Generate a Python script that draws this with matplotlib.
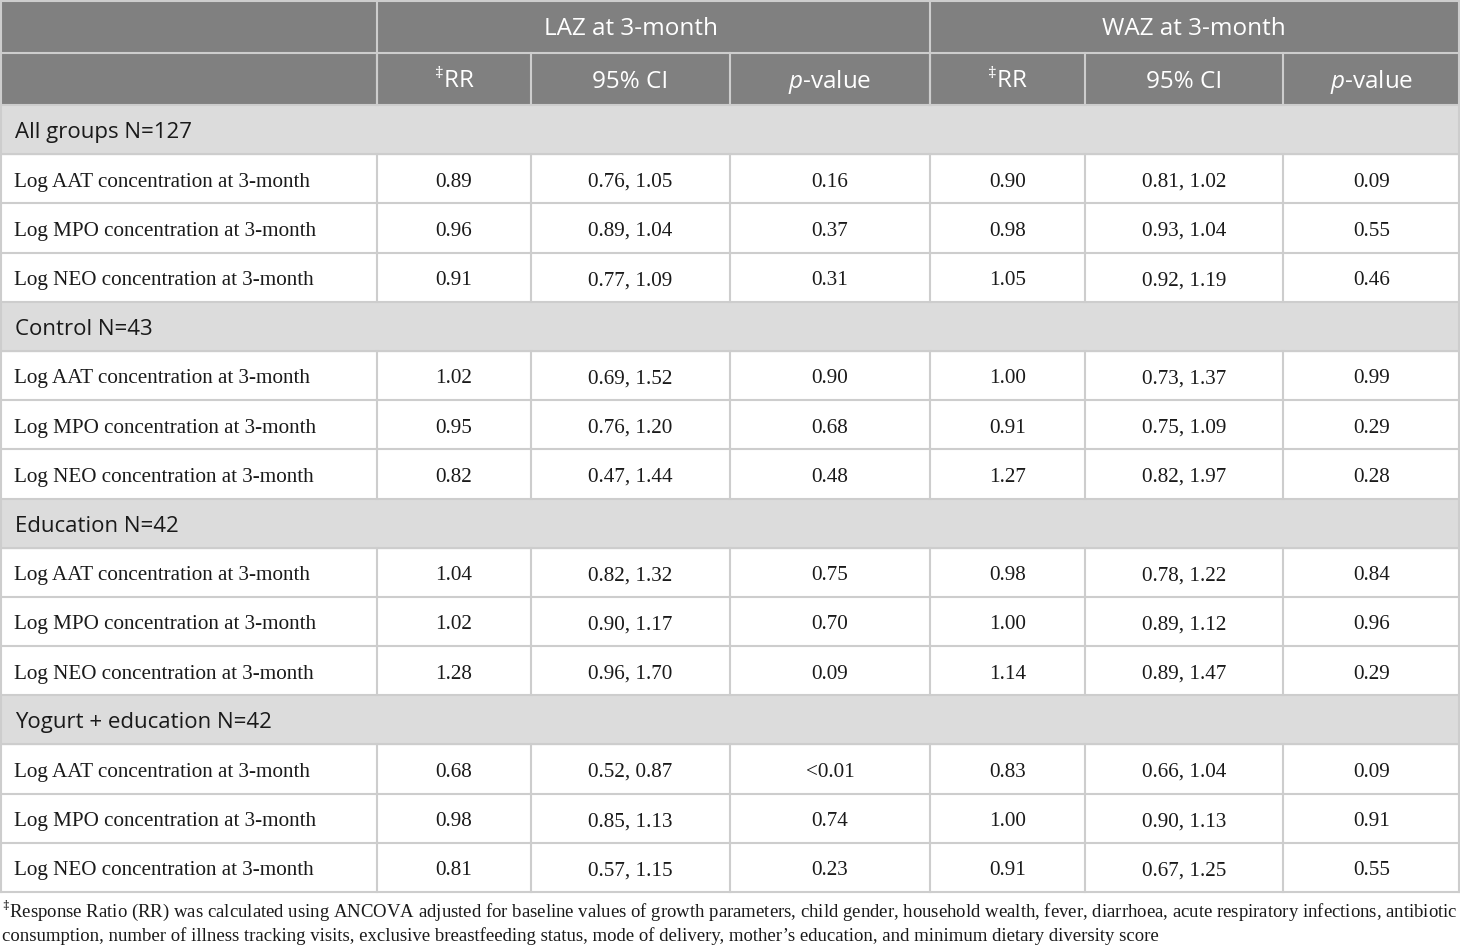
import matplotlib
matplotlib.use("Agg")
import matplotlib.pyplot as plt

plt.rcParams['mathtext.fontset'] = 'custom'
plt.rcParams['mathtext.rm'] = 'Open Sans'
plt.rcParams['mathtext.it'] = 'Open Sans:italic'

# données du tableau
groups = ["All groups N=127", "Control N=43", "Education N=42", "Yogurt + education N=42"]
markers = ["Log AAT concentration at 3-month",
           "Log MPO concentration at 3-month",
           "Log NEO concentration at 3-month"]

laz_rr = [["0.89", "0.96", "0.91"], ["1.02", "0.95", "0.82"],
          ["1.04", "1.02", "1.28"], ["0.68", "0.98", "0.81"]]
laz_ci = [["0.76, 1.05", "0.89, 1.04", "0.77, 1.09"], ["0.69, 1.52", "0.76, 1.20", "0.47, 1.44"],
          ["0.82, 1.32", "0.90, 1.17", "0.96, 1.70"], ["0.52, 0.87", "0.85, 1.13", "0.57, 1.15"]]
laz_p = [["0.16", "0.37", "0.31"], ["0.90", "0.68", "0.48"],
         ["0.75", "0.70", "0.09"], ["<0.01", "0.74", "0.23"]]

waz_rr = [["0.90", "0.98", "1.05"], ["1.00", "0.91", "1.27"],
          ["0.98", "1.00", "1.14"], ["0.83", "1.00", "0.91"]]
waz_ci = [["0.81, 1.02", "0.93, 1.04", "0.92, 1.19"], ["0.73, 1.37", "0.75, 1.09", "0.82, 1.97"],
          ["0.78, 1.22", "0.89, 1.12", "0.89, 1.47"], ["0.66, 1.04", "0.90, 1.13", "0.67, 1.25"]]
waz_p = [["0.09", "0.55", "0.46"], ["0.99", "0.29", "0.28"],
         ["0.84", "0.96", "0.29"], ["0.09", "0.91", "0.55"]]

outcomes = ["LAZ at 3-month", "WAZ at 3-month"]
sub_headers = [r"$^{‡}$RR", "95% CI", r"$p$-value"]

footnote = ("$^{‡}$Response Ratio (RR) was calculated using ANCOVA adjusted for baseline values of growth parameters, "
            "child gender, household wealth, fever, diarrhoea, acute respiratory infections, antibiotic\n"
            "consumption, number of illness tracking visits, exclusive breastfeeding status, mode of delivery, "
            "mother’s education, and minimum dietary diversity score")

# mise en page (pixels)
W, H = 1460, 947
col_x = [0, 377, 531, 730, 930, 1085, 1283, 1460]
h_head = [0, 53, 105]
row_h = (892 - 105) / 16
base_off = 32.5   # décalage de la ligne de base dans une rangée

head_bg = "#808080"
grp_bg = "#dcdcdc"
line_c = "#cdcdcd"
txt_c = "#1a1a1a"
sans = "Open Sans"
serif = "Liberation Serif"
fs_head = 17.5
fs_body = 15.2

fig = plt.figure(figsize=(W / 100, H / 100), dpi=100)
ax = fig.add_axes([0, 0, 1, 1])
ax.set_xlim(0, W)
ax.set_ylim(H, 0)
ax.axis("off")

# en-tête
ax.add_patch(plt.Rectangle((0, 0), W, h_head[2], color=head_bg, zorder=0))
ax.text(630.5, 35, outcomes[0], ha="center", va="baseline", color="white",
        family=sans, fontsize=fs_head)
ax.text(1194, 35, outcomes[1], ha="center", va="baseline", color="white",
        family=sans, fontsize=fs_head)
for k in range(2):
    for j, lab in enumerate(sub_headers):
        c0, c1 = col_x[1 + 3 * k + j], col_x[2 + 3 * k + j]
        ax.text((c0 + c1) / 2, 88, lab, ha="center", va="baseline", color="white",
                family=sans, fontsize=fs_head)

# corps
y = h_head[2]
for g, name in enumerate(groups):
    ax.add_patch(plt.Rectangle((0, y), W, row_h, color=grp_bg, zorder=0))
    ax.text(15, y + base_off + 0.5, name, ha="left", va="baseline", color=txt_c,
            family=sans, fontsize=16)
    ax.plot([0, W], [y + row_h, y + row_h], color=line_c, lw=1.5, zorder=1)
    y += row_h
    for m, mk in enumerate(markers):
        vals = [laz_rr[g][m], laz_ci[g][m], laz_p[g][m],
                waz_rr[g][m], waz_ci[g][m], waz_p[g][m]]
        yb = y + base_off
        ax.text(14, yb, mk, ha="left", va="baseline", color=txt_c,
                family=serif, fontsize=fs_body)
        for j, v in enumerate(vals):
            ax.text((col_x[j + 1] + col_x[j + 2]) / 2, yb, v,
                    ha="center", va="baseline", color=txt_c, family=serif,
                    fontsize=fs_body)
        for xc in col_x[1:-1]:
            ax.plot([xc, xc], [y, y + row_h], color=line_c, lw=1.5, zorder=1)
        ax.plot([0, W], [y + row_h, y + row_h], color=line_c, lw=1.5, zorder=1)
        y += row_h

# lignes de l'en-tête
ax.plot([0, W], [0.75, 0.75], color=line_c, lw=1.5)
ax.plot([col_x[1], W], [h_head[1], h_head[1]], color=line_c, lw=1.5)
ax.plot([0, col_x[1]], [h_head[1], h_head[1]], color=line_c, lw=1.5)
ax.plot([0, W], [h_head[2], h_head[2]], color=line_c, lw=1.5)
ax.plot([col_x[1], col_x[1]], [0, h_head[2]], color=line_c, lw=1.5)
ax.plot([col_x[4], col_x[4]], [0, h_head[2]], color=line_c, lw=1.5)
for xc in col_x[1:-1]:
    ax.plot([xc, xc], [h_head[1], h_head[2]], color=line_c, lw=1.5)
ax.plot([0.75, 0.75], [0, 892], color=line_c, lw=1.5)
ax.plot([W - 0.75, W - 0.75], [0, 892], color=line_c, lw=1.5)

ax.text(2, 899, footnote, ha="left", va="top", color=txt_c, family=serif,
        fontsize=13.5, linespacing=1.3)

fig.savefig("out.png", dpi=100)
